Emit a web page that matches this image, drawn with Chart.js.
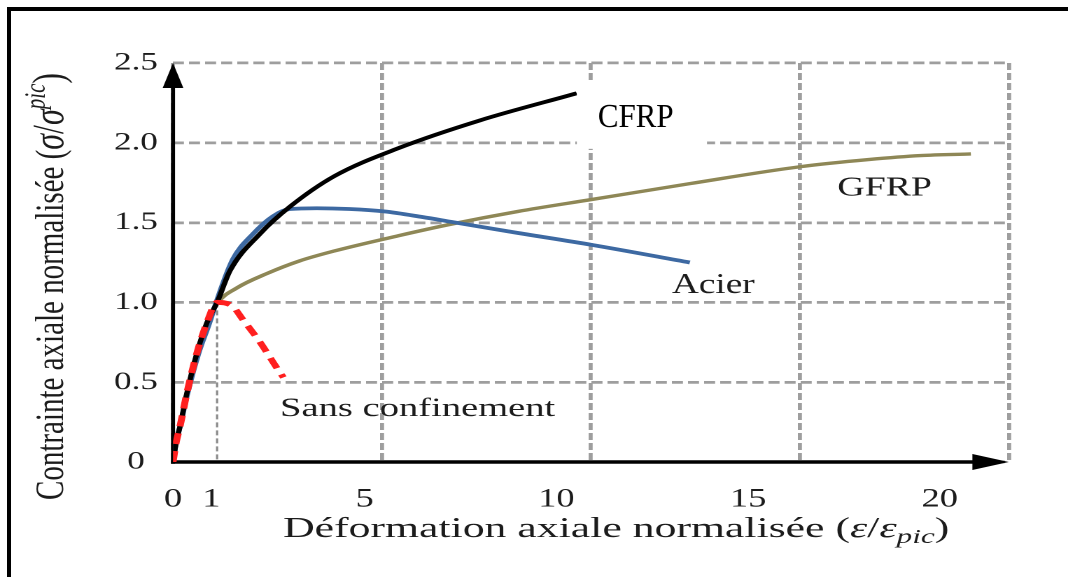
<!DOCTYPE html>
<html lang="fr">
<head>
<meta charset="utf-8">
<title>Contrainte axiale normalisée</title>
<script src="https://cdn.jsdelivr.net/npm/chart.js@4.4.1/dist/chart.umd.min.js"></script>
<style>
  html, body { margin: 0; background: #fff; overflow: hidden; }
  #frame {
    position: absolute; left: 7px; top: 7px; width: 1061px; height: 570px;
    border-top: 4px solid #000; border-left: 4px solid #000; box-sizing: border-box;
  }
  /* figure drawn narrow then widened, like the original print */
  #stage {
    position: absolute; left: 0; top: 0; width: 763px; height: 577px;
    transform: scaleX(1.39974); transform-origin: 0 0;
  }
</style>
</head>
<body>
<div id="frame"></div>
<div id="stage"><canvas id="courbes" width="763" height="577"></canvas></div>
<script>
// axes
const xTicks = [0, 1, 5, 10, 15, 20];
const yTicks = [0, 0.5, 1.0, 1.5, 2.0, 2.5];
const xMax = 21.8;
const yMax = 2.5;
const peakStrain = 1.15; // pic du béton non confiné
const peakStress = 1.0;

// béton sans confinement
const sansStrain = [0, 0.08, 0.18, 0.36, 0.62, 0.88, 1.15, 1.53, 1.83, 2.27, 2.79, 2.88];
const sansStress = [0, 0.12, 0.22, 0.43, 0.68, 0.87, 1.00, 0.98, 0.89, 0.75, 0.56, 0.53];

// confinement CFRP
const cfrpStrain = [0, 0.08, 0.18, 0.36, 0.62, 0.88, 1.15, 1.49, 2.27, 3.05, 4.2, 5.92, 8.0, 10.53];
const cfrpStress = [0, 0.12, 0.22, 0.43, 0.68, 0.87, 1.00, 1.20, 1.43, 1.60, 1.79, 1.97, 2.14, 2.31];

// confinement acier
const acierStrain = [0, 0.08, 0.18, 0.38, 0.68, 0.95, 1.14, 1.56, 2.09, 2.61, 3.05, 3.75, 4.6, 5.5, 6.5, 7.25, 9.0, 10.93, 13.48];
const acierStress = [0, 0.12, 0.22, 0.43, 0.69, 0.87, 1.01, 1.27, 1.43, 1.54, 1.585, 1.59, 1.585, 1.57, 1.535, 1.505, 1.435, 1.36, 1.25];

// confinement GFRP
const gfrpStrain = [0, 0.08, 0.18, 0.36, 0.62, 0.88, 1.17, 1.66, 2.44, 3.3, 4.17, 5.92, 7.25, 9.0, 10.93, 13.5, 16.35, 18.14, 19.5, 20.81];
const gfrpStress = [0, 0.12, 0.22, 0.43, 0.68, 0.87, 1.00, 1.09, 1.18, 1.26, 1.32, 1.42, 1.49, 1.57, 1.645, 1.745, 1.85, 1.895, 1.92, 1.93];

const FONT = '"Liberation Serif", "Times New Roman", serif';
const TEXT = "#1c1c1c";
const GRID = "#9e9e9e";

const pts = (xs, ys) => xs.map((x, i) => ({ x, y: ys[i] }));

// curve names written on the plot (x, y in axis units)
const curveLabels = [
  { text: "CFRP", x: 11.08, y: 2.10, size: 34, sx: 0.65, color: "#000", mask: [-15, -44, 93, 66] },
  { text: "GFRP", x: 17.33, y: 1.67, size: 27, sx: 1.0 },
  { text: "Acier", x: 13.01, y: 1.06, size: 29, sx: 0.92 },
  { text: "Sans confinement", x: 2.79, y: 0.288, size: 26, sx: 1.06 }
];

const xTitle = [
  { t: "Déformation axiale normalisée (", size: 28 },
  { t: "ε", size: 28, italic: true },
  { t: "/", size: 28 },
  { t: "ε", size: 28, italic: true },
  { t: "pic", size: 20, italic: true, dy: 6 },
  { t: ")", size: 28 }
];

const yTitle = [
  { t: "Contrainte axiale normalisée (", size: 29 },
  { t: "σ", size: 32, italic: true },
  { t: "/", size: 32 },
  { t: "σ", size: 32, italic: true },
  { t: "pic", size: 21, italic: true, dy: -13 },
  { t: ")", size: 32 }
];

function setFont(ctx, p) {
  ctx.font = (p.italic ? "italic " : "") + p.size + "px " + FONT;
}

function richWidth(ctx, parts) {
  let w = 0;
  parts.forEach(p => { setFont(ctx, p); w += ctx.measureText(p.t).width; });
  return w;
}

function drawRich(ctx, parts) {
  let cx = 0;
  parts.forEach(p => {
    setFont(ctx, p);
    ctx.fillText(p.t, cx, p.dy || 0);
    cx += ctx.measureText(p.t).width;
  });
}

// axis lines with arrow heads + dotted mark under the peak
const axesPlugin = {
  id: "axes",
  beforeDatasetsDraw(chart) {
    const { ctx, chartArea: a, scales } = chart;
    ctx.save();

    const px = scales.x.getPixelForValue(peakStrain);
    const py = scales.y.getPixelForValue(peakStress);
    ctx.strokeStyle = "#8a8a8a";
    ctx.lineWidth = 1.6;
    ctx.setLineDash([5, 3]);
    ctx.beginPath();
    ctx.moveTo(px, py);
    ctx.lineTo(px, a.bottom);
    ctx.stroke();
    ctx.setLineDash([]);

    ctx.strokeStyle = ctx.fillStyle = "#000";
    ctx.lineWidth = 3.6;
    ctx.beginPath();
    ctx.moveTo(a.left - 1.5, a.bottom);
    ctx.lineTo(a.right - 20, a.bottom);
    ctx.stroke();
    ctx.beginPath();
    ctx.moveTo(a.right, a.bottom);
    ctx.lineTo(a.right - 26, a.bottom - 8);
    ctx.lineTo(a.right - 26, a.bottom + 8);
    ctx.closePath();
    ctx.fill();

    ctx.lineWidth = 2.9;
    ctx.beginPath();
    ctx.moveTo(a.left, a.bottom + 1.8);
    ctx.lineTo(a.left, a.top + 20);
    ctx.stroke();
    ctx.beginPath();
    ctx.moveTo(a.left, a.top);
    ctx.lineTo(a.left - 7.4, a.top + 25);
    ctx.lineTo(a.left + 7.4, a.top + 25);
    ctx.closePath();
    ctx.fill();
    ctx.restore();
  }
};

const textPlugin = {
  id: "textes",
  afterDatasetsDraw(chart) {
    const { ctx, scales } = chart;
    ctx.save();
    ctx.textBaseline = "alphabetic";
    ctx.textAlign = "left";

    curveLabels.forEach(l => {
      const x = scales.x.getPixelForValue(l.x);
      const y = scales.y.getPixelForValue(l.y);
      if (l.mask) {
        ctx.fillStyle = "#fff";
        ctx.fillRect(x + l.mask[0], y + l.mask[1], l.mask[2], l.mask[3]);
      }
      ctx.save();
      ctx.translate(x, y);
      ctx.scale(l.sx, 1);
      ctx.fillStyle = l.color || TEXT;
      ctx.font = l.size + "px " + FONT;
      ctx.fillText(l.text, 0, 0);
      ctx.restore();
    });

    // x title, stretched to its span under the axis
    ctx.fillStyle = TEXT;
    const w = richWidth(ctx, xTitle);
    ctx.save();
    ctx.translate(202.2, 537);
    ctx.scale(476 / w, 1);
    drawRich(ctx, xTitle);
    ctx.restore();

    // y title, read bottom to top
    ctx.save();
    ctx.translate(45, 500);
    ctx.rotate(-Math.PI / 2);
    drawRich(ctx, yTitle);
    ctx.restore();

    ctx.restore();
  }
};

const line = (data, color, width, extra) => Object.assign({
  data, borderColor: color, borderWidth: width, xAxisID: "x", yAxisID: "y",
  pointRadius: 0, fill: false, cubicInterpolationMode: "monotone", borderCapStyle: "butt"
}, extra || {});

new Chart(document.getElementById("courbes"), {
  type: "line",
  data: {
    datasets: [
      line(pts(sansStrain, sansStress), "#ff1f1f", 5, { borderDash: [11, 7] }),
      line(pts(cfrpStrain, cfrpStress), "#000000", 3.8),
      line(pts(acierStrain, acierStress), "#3d69a2", 3.8),
      line(pts(gfrpStrain, gfrpStress), "#8e8756", 3.4)
    ]
  },
  options: {
    responsive: false,
    devicePixelRatio: 2,
    animation: false,
    layout: { padding: { left: 0, right: 42.3, top: 63, bottom: 0 } },
    plugins: { legend: { display: false }, tooltip: { enabled: false } },
    scales: {
      x: {
        type: "linear", position: "bottom", min: 0, max: xMax,
        afterBuildTicks: s => { s.ticks = xTicks.map(v => ({ value: v })); },
        afterFit: s => { s.height = 115; },
        grid: { display: false },
        border: { display: false },
        ticks: {
          font: { family: FONT, size: 26 }, color: TEXT, padding: 14,
          maxRotation: 0, minRotation: 0, autoSkip: false,
          callback: v => String(v)
        }
      },
      // vertical grid: four equal columns
      xGrid: {
        type: "linear", position: "top", min: 0, max: xMax,
        afterBuildTicks: s => { s.ticks = [0, 1, 2, 3, 4].map(i => ({ value: xMax * i / 4 })); },
        afterFit: s => { s.height = 0; },
        ticks: { display: false },
        grid: { color: GRID, lineWidth: 2.9, drawTicks: false },
        border: { display: false, dash: [7, 3] }
      },
      y: {
        type: "linear", min: 0, max: yMax,
        afterBuildTicks: s => { s.ticks = yTicks.map(v => ({ value: v })); },
        afterFit: s => { s.width = 123.6; },
        grid: { color: GRID, lineWidth: 2.7, drawTicks: false },
        border: { display: false, dash: [7.9, 3.6] },
        ticks: {
          font: { family: FONT, size: 25 }, color: TEXT, padding: 10.8,
          crossAlign: "center",
          callback: v => (v === 0 ? "0" : v.toFixed(1))
        }
      }
    }
  },
  plugins: [axesPlugin, textPlugin]
});
</script>
</body>
</html>
